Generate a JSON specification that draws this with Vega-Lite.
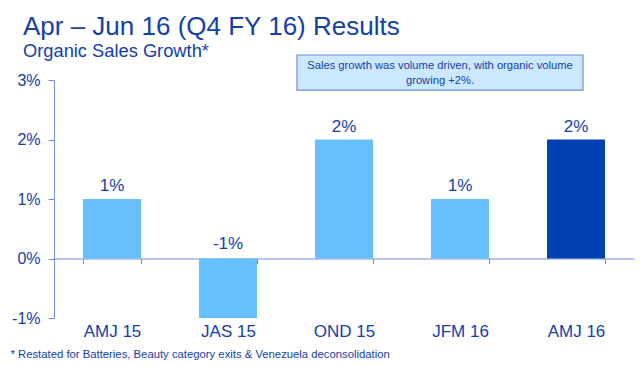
{
  "$schema": "https://vega.github.io/schema/vega-lite/v6.json",
  "autosize": {"type": "none"},
  "width": 580,
  "height": 238,
  "padding": {"left": 54, "top": 80, "right": 6, "bottom": 47},
  "background": "white",
  "config": {
    "font": "Liberation Sans",
    "view": {"stroke": null},
    "title": {"color": "#1440a8", "subtitleColor": "#1440a8", "fontWeight": "normal", "subtitleFontWeight": "normal"}
  },
  "title": {
    "text": "Apr – Jun 16 (Q4 FY 16) Results",
    "subtitle": "Organic Sales Growth*",
    "anchor": "start",
    "frame": "group",
    "dx": -31,
    "dy": 32,
    "fontSize": 26,
    "subtitleFontSize": 18.3,
    "subtitlePadding": 3,
    "offset": 26
  },
  "data": {
    "values": [
      {"q": "AMJ 15", "v": 1, "label": "1%"},
      {"q": "JAS 15", "v": -1, "label": "-1%"},
      {"q": "OND 15", "v": 2, "label": "2%"},
      {"q": "JFM 16", "v": 1, "label": "1%"},
      {"q": "AMJ 16", "v": 2, "label": "2%"}
    ]
  },
  "encoding": {
    "x": {
      "field": "q",
      "type": "nominal",
      "sort": null,
      "scale": {"paddingInner": 0.5, "paddingOuter": 0.25},
      "axis": {
        "offset": -59.5,
        "labelAngle": 0,
        "labelFontSize": 17,
        "labelColor": "#1440a8",
        "labelPadding": 60,
        "domainColor": "#6f8fd6",
        "tickColor": "#6f8fd6",
        "tickBand": "extent",
        "tickSize": 5,
        "title": "* Restated for Batteries, Beauty category exits & Venezuela deconsolidation",
        "titleX": -44,
        "titleY": 96,
        "titleAlign": "left",
        "titleAnchor": "start",
        "titleBaseline": "middle",
        "titleFontSize": 11.3,
        "titleFontWeight": "normal",
        "titleColor": "#1440a8"
      }
    }
  },
  "layer": [
    {
      "mark": {"type": "bar"},
      "encoding": {
        "y": {
          "field": "v",
          "type": "quantitative",
          "scale": {"domain": [-1, 3], "nice": false},
          "axis": {
            "values": [-1, 0, 1, 2, 3],
            "labelExpr": "datum.value + '%'",
            "grid": false,
            "title": null,
            "labelFontSize": 16,
            "labelColor": "#1440a8",
            "labelPadding": 8,
            "tickSize": 6,
            "domainColor": "#6f8fd6",
            "tickColor": "#6f8fd6"
          }
        },
        "color": {
          "condition": {"test": "datum.q === 'AMJ 16'", "value": "#0040b0"},
          "value": "#66c0ff"
        }
      }
    },
    {
      "transform": [{"filter": "datum.v >= 0"}],
      "mark": {"type": "text", "baseline": "alphabetic", "dy": -8, "fontSize": 17, "color": "#1440a8"},
      "encoding": {
        "y": {"field": "v", "type": "quantitative"},
        "text": {"field": "label"}
      }
    },
    {
      "transform": [{"filter": "datum.v < 0"}],
      "mark": {"type": "text", "baseline": "alphabetic", "dy": -9.5, "fontSize": 17, "color": "#1440a8"},
      "encoding": {
        "y": {"datum": 0},
        "text": {"field": "label"}
      }
    },
    {
      "data": {"values": [{"note": "Sales growth was volume driven, with organic volume\ngrowing +2%."}]},
      "mark": {"type": "bar", "width": 286, "xOffset": -20, "fill": "#cce8ff", "stroke": "#6f8fd6", "strokeWidth": 1.2, "clip": false},
      "encoding": {
        "x": {"datum": "JFM 16"},
        "y": {"datum": 3.42},
        "y2": {"datum": 2.83}
      }
    },
    {
      "data": {"values": [{"note": "Sales growth was volume driven, with organic volume\ngrowing +2%."}]},
      "mark": {"type": "text", "lineBreak": "\n", "fontSize": 11.2, "lineHeight": 15, "color": "#1440a8", "dx": -20, "baseline": "middle"},
      "encoding": {
        "x": {"datum": "JFM 16"},
        "y": {"datum": 3.235},
        "text": {"field": "note"}
      }
    }
  ]
}
